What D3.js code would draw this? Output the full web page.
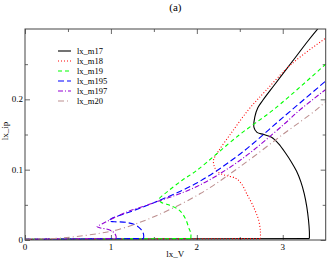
<!DOCTYPE html>
<html>
<head>
<meta charset="utf-8">
<script src="https://cdn.jsdelivr.net/npm/d3@7"></script>
<style>
  body { margin: 0; background: #fff; }
  text { font-family: "Liberation Serif", "DejaVu Serif", serif; fill: #000; }
</style>
</head>
<body>
<svg id="chart" width="327" height="260"></svg>
<script>
// series names, in legend order
var seriesNames = ['lx_m17', 'lx_m18', 'lx_m19', 'lx_m195', 'lx_m197', 'lx_m20'];

// each curve: [lx_V, lx_ip], from where it leaves zero, up the lower branch,
// round the fold and out along the upper branch
var m17 = [[3.31, 0.002], [3.31, 0.012], [3.30, 0.028], [3.28, 0.047], [3.25, 0.066], [3.21, 0.083],
  [3.16, 0.098], [3.10, 0.111], [3.03, 0.124], [2.95, 0.137], [2.87, 0.146], [2.78, 0.150],
  [2.70, 0.153], [2.665, 0.160], [2.675, 0.175], [2.71, 0.188], [2.77, 0.199], [2.9, 0.220],
  [3.1, 0.252], [3.3, 0.284], [3.42, 0.302]];
var m18 = [[2.74, 0.002], [2.74, 0.012], [2.72, 0.028], [2.66, 0.047], [2.58, 0.066], [2.52, 0.080],
  [2.45, 0.088], [2.33, 0.092], [2.24, 0.097], [2.20, 0.106], [2.195, 0.114], [2.25, 0.126],
  [2.4, 0.152], [2.6, 0.185], [2.8, 0.212], [3.1, 0.250], [3.5, 0.287]];
var m19 = [[1.93, 0.002], [1.93, 0.010], [1.91, 0.016], [1.865, 0.031], [1.79, 0.043], [1.67, 0.050],
  [1.58, 0.054], [1.56, 0.058], [1.62, 0.065], [1.83, 0.085], [2.0, 0.099], [2.5, 0.150],
  [2.9, 0.186], [3.5, 0.250]];
var m195 = [[1.38, 0.002], [1.38, 0.008], [1.35, 0.015], [1.29, 0.021], [1.18, 0.025], [1.04, 0.026],
  [0.98, 0.027], [1.0, 0.030], [1.2, 0.039], [1.5, 0.053], [2.0, 0.081], [2.5, 0.122],
  [3.0, 0.174], [3.5, 0.226]];
var m197 = [[1.06, 0.002], [1.06, 0.005], [1.04, 0.010], [0.97, 0.015], [0.88, 0.017], [0.84, 0.019],
  [0.9, 0.023], [1.17, 0.039], [1.5, 0.053], [2.0, 0.076], [2.5, 0.113], [3.0, 0.163],
  [3.2, 0.185], [3.5, 0.214]];
var m20 = [[0.0, 0.001], [0.2, 0.0015], [0.4, 0.0025], [0.6, 0.005], [0.87, 0.0095], [1.09, 0.015],
  [1.5, 0.033], [2.04, 0.066], [2.5, 0.104], [3.0, 0.150], [3.4, 0.186], [3.5, 0.197]];
var curves = [m17, m18, m19, m195, m197, m20];

// the ~0 solution runs from V = 0 up to where each curve leaves it
var baselineEnd = [3.31, 2.74, 1.93, 1.38, 1.06, 0.0];

var colorList = ['#000000', '#ff0000', '#00ff00', '#0000ff', '#9400d3', '#bc8f8f'];
var dashList = ['none', '1,2', '4,3', '6,3', '5,2,1,2', '6,3,1,3'];

var xTicks = [0, 1, 2, 3];
var yTicks = [0, 0.1, 0.2];

var svg = d3.select('#chart');
var margin = { left: 25, right: 1.3, top: 29, bottom: 20 };
var W = 327, H = 260;

var x = d3.scaleLinear().domain([0, 3.5]).range([margin.left, W - margin.right]);
var y = d3.scaleLinear().domain([0, 0.3]).range([H - margin.bottom, margin.top]);

svg.append('defs').append('clipPath').attr('id', 'plotclip')
  .append('rect')
  .attr('x', x(0)).attr('y', y(0.3))
  .attr('width', x(3.5) - x(0)).attr('height', y(0) - y(0.3));

// title
svg.append('text')
  .attr('x', x(1.75)).attr('y', 11)
  .attr('text-anchor', 'middle')
  .style('font-size', '11px')
  .text('(a)');

// inward ticks on all four sides
function tickAxis(axisFn, scale, len, values, tr) {
  var g = svg.append('g').attr('transform', tr)
    .call(axisFn(scale).tickValues(values).tickSize(len).tickFormat(''));
  g.select('.domain').remove();
  g.selectAll('line').attr('stroke', '#444').attr('stroke-width', 0.8);
  return g;
}
var xMinor = d3.range(0.5, 3.5, 1);
var yMinor = [0.05, 0.15, 0.25];
tickAxis(d3.axisTop, x, 5, xTicks, 'translate(0,' + y(0) + ')');
tickAxis(d3.axisTop, x, 3, xMinor, 'translate(0,' + y(0) + ')');
tickAxis(d3.axisBottom, x, 5, xTicks, 'translate(0,' + y(0.3) + ')');
tickAxis(d3.axisBottom, x, 3, xMinor, 'translate(0,' + y(0.3) + ')');
tickAxis(d3.axisRight, y, 5, yTicks, 'translate(' + x(0) + ',0)');
tickAxis(d3.axisRight, y, 3, yMinor, 'translate(' + x(0) + ',0)');
tickAxis(d3.axisLeft, y, 5, yTicks, 'translate(' + x(3.5) + ',0)');
tickAxis(d3.axisLeft, y, 3, yMinor, 'translate(' + x(3.5) + ',0)');

// tick labels
svg.append('g').selectAll('text').data(xTicks).join('text')
  .attr('x', function(d) { return x(d); })
  .attr('y', y(0) + 10)
  .attr('text-anchor', 'middle')
  .style('font-size', '9px')
  .text(function(d) { return d; });
svg.append('g').selectAll('text').data(yTicks).join('text')
  .attr('x', x(0) - 2)
  .attr('y', function(d) { return y(d) + 3; })
  .attr('text-anchor', 'end')
  .style('font-size', '9px')
  .text(function(d) { return d; });

// axis titles
svg.append('text')
  .attr('x', x(1.75)).attr('y', 257)
  .attr('text-anchor', 'middle')
  .style('font-size', '9px')
  .text('lx_V');
svg.append('text')
  .attr('transform', 'translate(8,131) rotate(-90)')
  .attr('text-anchor', 'middle')
  .style('font-size', '9px')
  .text('lx_ip');

// curves
var line = d3.line()
  .x(function(d) { return x(d[0]); })
  .y(function(d) { return y(d[1]); })
  .curve(d3.curveCatmullRom.alpha(0.5));
var flat = d3.line()
  .x(function(d) { return x(d[0]); })
  .y(function(d) { return y(d[1]); });

var plot = svg.append('g').attr('clip-path', 'url(#plotclip)');
curves.forEach(function(pts, i) {
  if (baselineEnd[i] > 0) {
    plot.append('path')
      .attr('d', flat([[0, 0.001], [baselineEnd[i], 0.002]]))
      .attr('fill', 'none')
      .attr('stroke', colorList[i])
      .attr('stroke-width', 1.1)
      .attr('stroke-dasharray', dashList[i]);
  }
  plot.append('path')
    .attr('d', line(pts))
    .attr('fill', 'none')
    .attr('stroke', colorList[i])
    .attr('stroke-width', 1.1)
    .attr('stroke-dasharray', dashList[i]);
});

// frame
svg.append('rect')
  .attr('x', x(0)).attr('y', y(0.3))
  .attr('width', x(3.5) - x(0)).attr('height', y(0) - y(0.3))
  .attr('fill', 'none')
  .attr('stroke', '#444')
  .attr('stroke-width', 1);

// legend
var legend = svg.append('g').attr('transform', 'translate(58,51)');
var rows = legend.selectAll('g').data(seriesNames).join('g')
  .attr('transform', function(d, i) { return 'translate(0,' + (i * 10) + ')'; });
rows.append('line')
  .attr('x1', 0).attr('x2', 13).attr('y1', 0).attr('y2', 0)
  .attr('stroke', function(d, i) { return colorList[i]; })
  .attr('stroke-width', 1.1)
  .attr('stroke-dasharray', function(d, i) { return dashList[i]; });
rows.append('text')
  .attr('x', 19).attr('y', 3)
  .style('font-size', '8.5px')
  .text(function(d) { return d; });
</script>
</body>
</html>
